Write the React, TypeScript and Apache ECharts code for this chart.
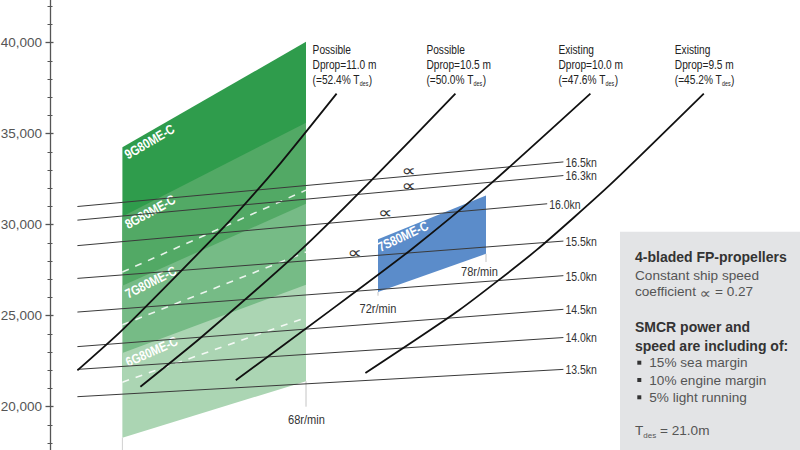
import React, { useEffect, useRef } from "react";
import * as echarts from "echarts";

// ---------------- data ----------------
const speedLabels = ["16.5kn", "16.3kn", "16.0kn", "15.5kn", "15.0kn", "14.5kn", "14.0kn", "13.5kn"];
const speedRpmStart = [55.3, 55.3, 55.3, 55.3, 55.3, 55.3, 55.3, 55.3];
const speedRpmEnd = [82.3, 82.3, 81.4, 82.3, 82.3, 82.3, 82.3, 82.3];
const speedKwStart = [31000, 30250, 28850, 27050, 25200, 23300, 22050, 20550];
const speedKwEnd = [33450, 32700, 31150, 29100, 27200, 25350, 23800, 22050];

const alphaRpm = [73.7, 73.7, 72.4, 70.7, 66.9, 59.7, 63.2, 61.5];
const alphaKw = [32970, 32180, 30710, 28460, 26290, 23890, 22800, 21140];

const propStatus = ["Possible", "Possible", "Existing", "Existing"];
const propDiameter = ["11.0", "10.5", "10.0", "9.5"];
const propRatio = ["52.4", "50.0", "47.6", "45.2"];
const propCurve110 = [[55.3, 22000], [57.7, 24130], [61.0, 27400], [63.8, 30250], [66.6, 33400], [69.7, 37200]];
const propCurve105 = [[58.8, 21100], [62.1, 23750], [67.7, 28600], [71.4, 32200], [76.3, 37200]];
const propCurve100 = [[64.1, 21450], [69.3, 25250], [73.8, 28600], [78.2, 32200], [83.8, 37200]];
const propCurve095 = [[71.3, 21850], [76.5, 25300], [80.8, 28600], [84.9, 32200], [90.1, 37200]];
const propCurves = [propCurve110, propCurve105, propCurve100, propCurve095];

const engineNames = ["9G80ME-C", "8G80ME-C", "7G80ME-C", "6G80ME-C", "7S80ME-C"];
const engineRpmLow = [57.8, 57.8, 57.8, 57.8, 72];
const engineRpmHigh = [68, 68, 68, 68, 78];
const engineTopLow = [34250, 30450, 26650, 22950, 29200];
const engineTopHigh = [40050, 35600, 31150, 26700, 31600];
const engineBottomLow = [27400, 24500, 21350, 18300, 26300];
const engineBottomHigh = [31900, 28500, 24900, 21400, 28400];

const markNames = ["68r/min", "72r/min", "78r/min"];
const markRpm = [68, 72, 78];
const markTopKw = [21400, 26300, 28400];
const markBottomKw = [20000, 26100, 27950];
const edgeTickRpm = [57.8];
const edgeTickTopKw = [18300];
const edgeTickBottomKw = [17000];

const yTickMin = 15000;
const yTickMax = 45000;
const yTickStep = 5000;
const yLabelMin = 20000;
const yLabelMax = 40000;

const boxTitle = "4-bladed FP-propellers";
const boxLine1 = "Constant ship speed";
const boxLine2a = "coefficient ";
const boxLine2b = "\u221D";
const boxLine2c = " = 0.27";
const boxTitle2a = "SMCR power and";
const boxTitle2b = "speed are including of:";
const boxBullets = ["15% sea margin", "10% engine margin", "5% light running"];
const boxTdes = "21.0m";

// ---------------- layout / style ----------------
const SANS = '"Liberation Sans", Arial, Helvetica, sans-serif';
const DEJAVU = '"DejaVu Sans", sans-serif';
const NARROW_SCALE = 0.82;
const diagramColors = ["#2f9c4c", "#52a965", "#76bb86", "#abd5b3", "#5b8cca"];
const labelRot = [30.4, 28.9, 27, 24, 25];
const labelOff = [[7, 14.5], [7, 15], [7, 15.5], [7, 16.5], [3.5, 15]];
const curveLabelDx = [-24, -29, -32, -29];
const markLabelDx = [0.5, 0, -6.5];
const markLabelDy = [12.6, 13.3, 9.3];

export default function App() {
  const ref = useRef<HTMLDivElement>(null);

  useEffect(() => {
    const el = ref.current!;
    const chart = echarts.init(el, null, { renderer: "svg" });

    const diagramData = engineNames.map((_, i) => [
      engineRpmLow[i], engineRpmHigh[i], engineTopLow[i], engineTopHigh[i],
      engineBottomLow[i], engineBottomHigh[i], i,
    ]);

    const series: any[] = [];
    series.push({
      type: "custom",
      name: "layout",
      data: diagramData,
      silent: true,
      renderItem: (_p: any, api: any) => {
        const i = api.value(6);
        const a = api.coord([api.value(0), api.value(2)]);
        const b = api.coord([api.value(1), api.value(3)]);
        const c = api.coord([api.value(1), api.value(5)]);
        const d = api.coord([api.value(0), api.value(4)]);
        return {
          type: "group",
          children: [
            { type: "polygon", shape: { points: [a, b, c, d] }, style: { fill: diagramColors[i] } },
            {
              type: "text",
              x: a[0] + labelOff[i][0],
              y: a[1] + labelOff[i][1],
              rotation: (labelRot[i] * Math.PI) / 180,
              scaleX: NARROW_SCALE,
              style: {
                text: engineNames[i], fill: "#ffffff", fontSize: 13.5, fontWeight: "bold",
                fontFamily: SANS, align: "left", verticalAlign: "bottom",
              },
            },
          ],
        };
      },
    });

    // dashed lower limits of 9G, 8G, 7G drawn over following diagrams
    for (let i = 0; i < 3; i++) {
      series.push({
        type: "line", silent: true, symbol: "none",
        data: [[engineRpmLow[i], engineBottomLow[i]], [engineRpmHigh[i], engineBottomHigh[i]]],
        lineStyle: { color: "rgba(255,255,255,0.85)", width: 1.6, type: [7, 7] },
      });
    }

    // rpm marker ticks
    markRpm.forEach((r, i) => {
      series.push({
        type: "line", silent: true, symbol: "none",
        data: [[r, markTopKw[i]], [r, markBottomKw[i]]],
        lineStyle: { color: "#c4c4c4", width: 1 },
      });
    });
    edgeTickRpm.forEach((r, i) => {
      series.push({
        type: "line", silent: true, symbol: "none",
        data: [[r, edgeTickTopKw[i]], [r, edgeTickBottomKw[i]]],
        lineStyle: { color: "#d0d0d0", width: 1 },
      });
    });

    // ship speed lines
    speedLabels.forEach((_, i) => {
      series.push({
        type: "line", silent: true, symbol: "none",
        data: [[speedRpmStart[i], speedKwStart[i]], [speedRpmEnd[i], speedKwEnd[i]]],
        lineStyle: { color: "#3a3a3a", width: 1 },
      });
    });

    // propeller curves
    propCurves.forEach((c) => {
      series.push({
        type: "line", silent: true, symbol: "none", smooth: 0.2,
        data: c,
        lineStyle: { color: "#111111", width: 1.8 },
      });
    });

    const axisCommon = {
      type: "value", min: yTickMin, max: yTickMax, interval: yTickStep,
      position: "left", offset: 4, splitLine: { show: false },
    };

    const option: any = {
      animation: false,
      backgroundColor: "#ffffff",
      grid: { left: 54, right: 8, top: -48.3, bottom: -47.7, containLabel: false, outerBoundsMode: "none" },
      xAxis: { type: "value", min: 54, max: 95, show: false },
      yAxis: [
        {
          ...axisCommon,
          axisLine: { show: true, lineStyle: { color: "#555555", width: 1.3 } },
          axisTick: { show: true, length: 4.5, lineStyle: { color: "#555555", width: 1.3 } },
          minorTick: { show: true, splitNumber: 5, length: 2.5, lineStyle: { color: "#555555", width: 1 } },
          axisLabel: {
            margin: 8, color: "#555555", fontSize: 13.5, fontFamily: SANS,
            formatter: (v: number) => (v >= yLabelMin && v <= yLabelMax ? v.toLocaleString("en-US") : ""),
          },
        },
        {
          ...axisCommon,
          axisLine: { show: false },
          axisTick: { show: true, inside: true, length: 3.5, lineStyle: { color: "#555555", width: 1.3 } },
          minorTick: { show: true, splitNumber: 5, length: 2.5, lineStyle: { color: "#555555", width: 1 } },
          axisLabel: { show: false },
        },
      ],
      series,
    };

    chart.setOption(option);

    const px = (p: number[]) => chart.convertToPixel({ gridIndex: 0 }, p) as unknown as number[];
    const ctx = document.createElement("canvas").getContext("2d")!;
    const measure = (t: string, size: number, weight = "normal", fam = SANS) => {
      ctx.font = `${weight} ${size}px ${fam}`;
      return ctx.measureText(t).width;
    };
    const txt = (text: string, x: number, y: number, o: any = {}) => ({
      type: "text", x, y, silent: true,
      scaleX: o.narrow ? NARROW_SCALE : 1,
      scaleY: o.sy || 1,
      style: {
        text, fill: o.fill || "#333333", fontSize: o.size || 12.5, fontFamily: o.fam || SANS,
        fontWeight: o.weight || "normal",
        align: o.align || "left", textAlign: o.align || "left",
        verticalAlign: o.va || "middle", textVerticalAlign: o.va || "middle",
      },
    });

    const g: any[] = [];

    // speed labels
    speedLabels.forEach((s, i) => {
      const p = px([speedRpmEnd[i], speedKwEnd[i]]);
      g.push(txt(s, p[0] + 2, p[1], { size: 12.8, fill: "#333", narrow: true }));
    });

    // alpha symbols
    alphaRpm.forEach((r, i) => {
      const p = px([r, alphaKw[i]]);
      g.push(txt("\u221D", p[0], p[1], { size: 20, sy: 0.8, fam: DEJAVU, align: "center", fill: "#333" }));
    });

    // propeller labels
    propCurves.forEach((c, i) => {
      const e = px(c[c.length - 1]);
      const left = e[0] + curveLabelDx[i];
      const f = { size: 12.4, fill: "#222", narrow: true };
      g.push(txt(propStatus[i], left, e[1] - 44.4, f));
      g.push(txt(`Dprop=${propDiameter[i]} m`, left, e[1] - 29.4, f));
      const part = `(=${propRatio[i]}% T`;
      const w1 = measure(part, 12.4) * NARROW_SCALE;
      g.push(txt(part, left, e[1] - 13.7, f));
      g.push(txt("des", left + w1, e[1] - 10.3, { size: 6.5, fill: "#222", narrow: true }));
      const w2 = measure("des", 6.5) * NARROW_SCALE;
      g.push(txt(")", left + w1 + w2 + 0.5, e[1] - 13.7, f));
    });

    // rpm marker labels
    markNames.forEach((n, i) => {
      const p = px([markRpm[i], markBottomKw[i]]);
      g.push(txt(n, p[0] + markLabelDx[i], p[1] + markLabelDy[i], { size: 13.5, fill: "#333", align: "center", narrow: true }));
    });

    // info box
    g.push({ type: "rect", silent: true, shape: { x: 620, y: 231.7, width: 182, height: 222 }, style: { fill: "#e3e4e6" } });
    const bx = 635;
    g.push(txt(boxTitle, bx, 257.3, { size: 14, weight: "bold", fill: "#333" }));
    g.push(txt(boxLine1, bx, 275, { size: 13.6, fill: "#555" }));
    g.push(txt(boxLine2a, bx, 291.7, { size: 13.6, fill: "#555" }));
    const wa = measure(boxLine2a, 13.6);
    g.push(txt(boxLine2b, bx + wa, 292.5, { size: 16, sy: 0.85, fam: DEJAVU, fill: "#555" }));
    const wb = measure(boxLine2b, 16, "normal", DEJAVU);
    g.push(txt(boxLine2c, bx + wa + wb, 291.7, { size: 13.6, fill: "#555" }));
    g.push(txt(boxTitle2a, bx, 327.3, { size: 14, weight: "bold", fill: "#333" }));
    g.push(txt(boxTitle2b, bx, 345.7, { size: 14, weight: "bold", fill: "#333" }));
    boxBullets.forEach((b, i) => {
      const y = 362.7 + i * 17.3;
      g.push({ type: "rect", silent: true, shape: { x: 637.3, y: y - 2, width: 4, height: 4 }, style: { fill: "#333" } });
      g.push(txt(b, 649.3, y, { size: 13.6, fill: "#555" }));
    });
    g.push(txt("T", bx, 430.7, { size: 13.6, fill: "#555" }));
    const wT = measure("T", 13.6);
    g.push(txt("des", bx + wT, 435.5, { size: 8, fill: "#555" }));
    const wd = measure("des", 8);
    g.push(txt(` = ${boxTdes}`, bx + wT + wd, 430.7, { size: 13.6, fill: "#555" }));

    chart.setOption({ graphic: { elements: g } });

    return () => chart.dispose();
  }, []);

  return (
    <div
      ref={ref}
      style={{ position: "fixed", left: 0, top: 0, width: 800, height: 450, background: "#fff" }}
    />
  );
}
